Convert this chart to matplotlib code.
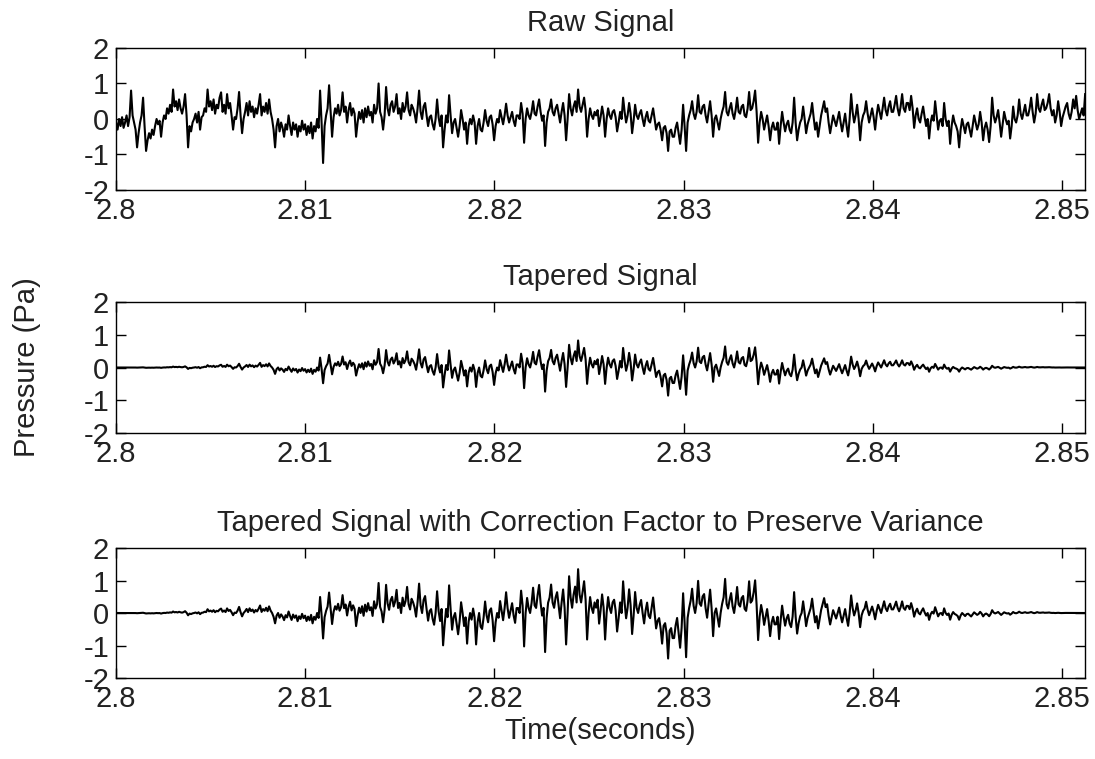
import numpy as np
import matplotlib
matplotlib.use("Agg")
import matplotlib.pyplot as plt

# raw pressure samples (Pa), evenly spaced in time
raw = [
    # 2.800 - 2.806
    -0.1, -0.3, 0.0, -0.2, 0.05, -0.25, -0.1, 0.1, -0.2, 0.05,
    0.8, 0.1, -0.1, -0.3, -0.8, -0.4, -0.1, 0.1, 0.6, -0.2,
    -0.9, -0.6, -0.4, -0.55, -0.3, -0.45, -0.2, 0.0, -0.15, -0.05,
    -0.5, -0.1, 0.1, 0.0, 0.3, 0.15, 0.4, 0.2, 0.83, 0.35,
    0.5, 0.25, 0.55, 0.3, 0.15, 0.35, 0.7, 0.1, -0.8, -0.2,
    -0.35, -0.1, 0.0, 0.15, -0.1, 0.2, -0.3, 0.05, 0.1, 0.3,
    0.2, 0.83, 0.35, 0.5, 0.25, 0.55, 0.15, 0.4, 0.3, 0.6,
    0.75, 0.2, 0.4, 0.15, 0.7, 0.3, 0.45, 0.1, -0.3, 0.05,
    # 2.806 - 2.8127
    0.0, 0.3, 0.76, 0.1, -0.4, 0.0, 0.2, 0.45, 0.1, 0.5,
    0.2, 0.35, 0.05, 0.3, 0.15, 0.4, 0.7, 0.1, 0.35, 0.2,
    0.45, 0.15, 0.55, 0.2, 0.0, -0.3, -0.8, -0.2, 0.0, -0.35,
    -0.1, -0.25, -0.5, -0.15, -0.3, 0.1, -0.2, -0.45, -0.1, -0.3,
    -0.15, -0.5, -0.2, -0.35, -0.05, -0.3, -0.15, -0.45, -0.2, -0.4,
    -0.1, -0.55, -0.2, -0.35, 0.0, -0.25, 0.8, -0.1, -1.24, -0.2,
    0.1, 0.3, 0.95, 0.2, -0.5, 0.05, 0.3, 0.15, 0.4, 0.1,
    0.25, 0.75, 0.2, 0.35, -0.1, 0.25, 0.45, 0.1, 0.3, 0.15,
    # 2.8127 - 2.819
    -0.5, -0.1, 0.2, 0.0, 0.25, -0.1, 0.3, 0.05, 0.35, 0.1,
    0.2, -0.1, 0.4, 0.15, 0.3, 1.0, 0.2, 0.05, -0.3, 0.1,
    0.9, 0.3, 0.1, 0.4, 0.5, 0.2, 0.35, 0.7, 0.15, 0.3,
    0.0, 0.45, 0.2, 0.35, 0.75, 0.25, 0.1, 0.4, 0.3, 0.15,
    -0.1, 0.3, 0.8, 0.2, 0.0, 0.35, 0.45, 0.1, -0.2, 0.05,
    0.1, -0.15, -0.3, 0.0, 0.55, 0.05, -0.2, 0.1, -0.8, -0.3,
    0.1, -0.1, 0.67, 0.1, -0.4, -0.1, 0.0, -0.25, -0.5, -0.2,
    0.25, 0.0, -0.3, -0.1, -0.7, -0.2, 0.0, -0.15, 0.1, -0.1,
    # 2.819 - 2.8254
    -0.7, -0.2, 0.0, -0.3, -0.35, -0.1, 0.25, -0.05, -0.2, 0.05,
    0.1, -0.15, -0.6, -0.2, 0.0, -0.1, 0.25, 0.05, -0.15, 0.1,
    0.43, 0.1, -0.1, 0.05, 0.2, -0.05, -0.2, 0.1, 0.1, 0.0,
    0.45, 0.15, -0.67, 0.0, 0.3, 0.1, 0.0, 0.2, 0.5, 0.15,
    0.1, 0.35, 0.55, 0.2, -0.05, 0.1, -0.76, -0.1, 0.2, 0.3,
    0.55, 0.2, 0.1, 0.3, 0.4, 0.15, -0.1, 0.2, 0.45, 0.1,
    -0.6, 0.0, 0.7, 0.3, 0.1, 0.35, 0.5, 0.2, 0.83, 0.35,
    0.2, 0.4, 0.6, 0.25, -0.5, 0.0, 0.3, 0.1, 0.0, 0.2,
    # 2.8254 - 2.8317
    0.1, 0.25, -0.2, 0.05, 0.35, 0.1, -0.5, 0.0, 0.3, 0.1,
    0.0, 0.2, 0.25, 0.05, -0.35, -0.1, 0.2, 0.0, 0.6, 0.2,
    -0.1, 0.1, 0.45, 0.15, -0.4, -0.05, 0.4, 0.1, 0.0, 0.15,
    0.25, 0.0, -0.2, 0.05, 0.2, -0.05, -0.1, 0.1, 0.3, 0.0,
    -0.3, -0.15, -0.1, -0.3, -0.6, -0.25, -0.2, -0.4, -0.9, -0.35,
    -0.3, -0.5, -0.5, -0.25, -0.1, -0.4, -0.7, -0.3, 0.4, -0.2,
    -0.9, -0.1, 0.1, 0.25, 0.5, 0.15, 0.0, 0.2, 0.67, 0.2,
    0.15, 0.35, 0.4, 0.1, -0.1, 0.2, 0.5, 0.1, -0.5, 0.0,
    # 2.8317 - 2.838
    0.1, -0.1, -0.3, 0.0, 0.2, 0.35, 0.76, 0.2, 0.1, 0.3,
    0.45, 0.15, 0.0, 0.25, 0.6, 0.2, 0.15, 0.35, 0.4, 0.1,
    0.05, 0.3, 0.76, 0.25, 0.3, 0.5, 0.8, 0.2, -0.67, -0.1,
    0.2, 0.0, -0.3, -0.1, 0.1, -0.2, -0.6, -0.25, -0.1, -0.3,
    -0.3, -0.1, -0.7, -0.2, 0.2, -0.1, -0.35, -0.15, -0.05, -0.3,
    -0.4, -0.1, 0.6, -0.1, -0.6, -0.3, -0.1, 0.0, 0.35, 0.0,
    -0.4, -0.15, 0.0, 0.15, 0.45, 0.05, -0.3, -0.1, -0.5, -0.2,
    0.1, 0.3, 0.5, 0.2, 0.3, -0.1, -0.4, -0.15, 0.1, -0.05,
    # 2.838 - 2.8444
    -0.2, 0.0, 0.2, -0.1, -0.35, -0.1, 0.15, -0.2, -0.5, 0.0,
    0.7, 0.2, -0.1, 0.1, 0.4, 0.0, -0.6, -0.1, 0.1, 0.2,
    0.5, 0.15, -0.1, 0.1, 0.3, 0.05, -0.3, 0.1, 0.4, 0.2,
    0.0, 0.3, 0.6, 0.25, 0.1, 0.35, 0.5, 0.2, 0.2, 0.4,
    0.65, 0.3, 0.1, 0.35, 0.7, 0.3, 0.2, 0.45, 0.45, 0.25,
    0.65, 0.3, -0.25, 0.1, 0.3, 0.0, -0.1, 0.15, 0.35, 0.05,
    -0.2, 0.0, -0.55, -0.1, 0.1, -0.05, 0.5, 0.1, -0.3, -0.05,
    0.0, -0.2, 0.45, 0.0, -0.2, -0.05, -0.7, -0.2, 0.1, -0.1,
    # 2.8444 - 2.8512
    -0.2, -0.35, -0.8, -0.3, 0.0, -0.2, -0.4, -0.15, -0.1, -0.3,
    -0.5, -0.2, 0.1, -0.1, -0.3, -0.15, 0.2, -0.1, -0.6, -0.25,
    -0.1, -0.3, -0.65, -0.2, 0.6, 0.1, -0.1, 0.05, 0.25, -0.1,
    -0.5, -0.15, 0.2, 0.0, -0.15, -0.05, -0.55, -0.2, 0.35, 0.0,
    -0.1, 0.1, 0.55, 0.15, 0.0, 0.2, 0.4, 0.1, 0.1, 0.3,
    0.6, 0.2, -0.1, 0.15, 0.7, 0.3, 0.2, 0.4, 0.55, 0.25,
    0.3, 0.45, 0.7, 0.3, 0.1, 0.25, -0.1, 0.1, 0.5, 0.2,
    -0.2, 0.05, 0.2, 0.35, 0.45, 0.15, 0.0, 0.2, 0.55, 0.3,
    0.65, 0.25, 0.0, 0.15, 0.3, 0.1, 0.7,
]

t_start = 2.8
t_end = 2.85122
xticks = [2.8, 2.81, 2.82, 2.83, 2.84, 2.85]
xticklabels = ["2.8", "2.81", "2.82", "2.83", "2.84", "2.85"]
yticks = [-2, -1, 0, 1, 2]
titles = ["Raw Signal", "Tapered Signal",
          "Tapered Signal with Correction Factor to Preserve Variance"]

raw = np.array(raw)
t = np.linspace(t_start, t_end, len(raw))
window = np.hanning(len(raw))
tapered = raw * window
corrected = tapered * np.sqrt(8.0 / 3.0)   # hann window power correction
signals = [raw, tapered, corrected]

plt.rcParams['font.family'] = ['Liberation Sans', 'DejaVu Sans']
plt.rcParams['axes.unicode_minus'] = False
fs = 21

fig = plt.figure(figsize=(10.95, 7.59), dpi=100)
# [left, bottom, width, height] of each panel
boxes = [[0.106, 0.7497, 0.885, 0.1871],
         [0.106, 0.4295, 0.885, 0.1726],
         [0.106, 0.1067, 0.885, 0.1713]]
axes = []
for i in range(3):
    ax = fig.add_axes(boxes[i])
    ax.plot(t, signals[i], color='k', lw=1.5)
    ax.set_xlim(t_start, t_end)
    ax.set_ylim(-2, 2)
    ax.set_xticks(xticks)
    ax.set_xticklabels(xticklabels)
    ax.set_yticks(yticks)
    ax.tick_params(direction='in', top=True, right=True, labelsize=fs,
                   length=7, width=1, pad=5, labelcolor='#222222')
    for s in ax.spines.values():
        s.set_linewidth(1.0)
    ax.set_title(titles[i], fontsize=fs, pad=12, color='#222222')
    axes.append(ax)

axes[2].set_xlabel("Time(seconds)", fontsize=fs, labelpad=3, color='#222222')
mid = boxes[1][1] + boxes[1][3] / 2
fig.text(0.025, mid, "Pressure (Pa)", rotation=90, fontsize=fs,
         va='center', ha='center', color='#222222')

fig.savefig("out.png", dpi=100)
